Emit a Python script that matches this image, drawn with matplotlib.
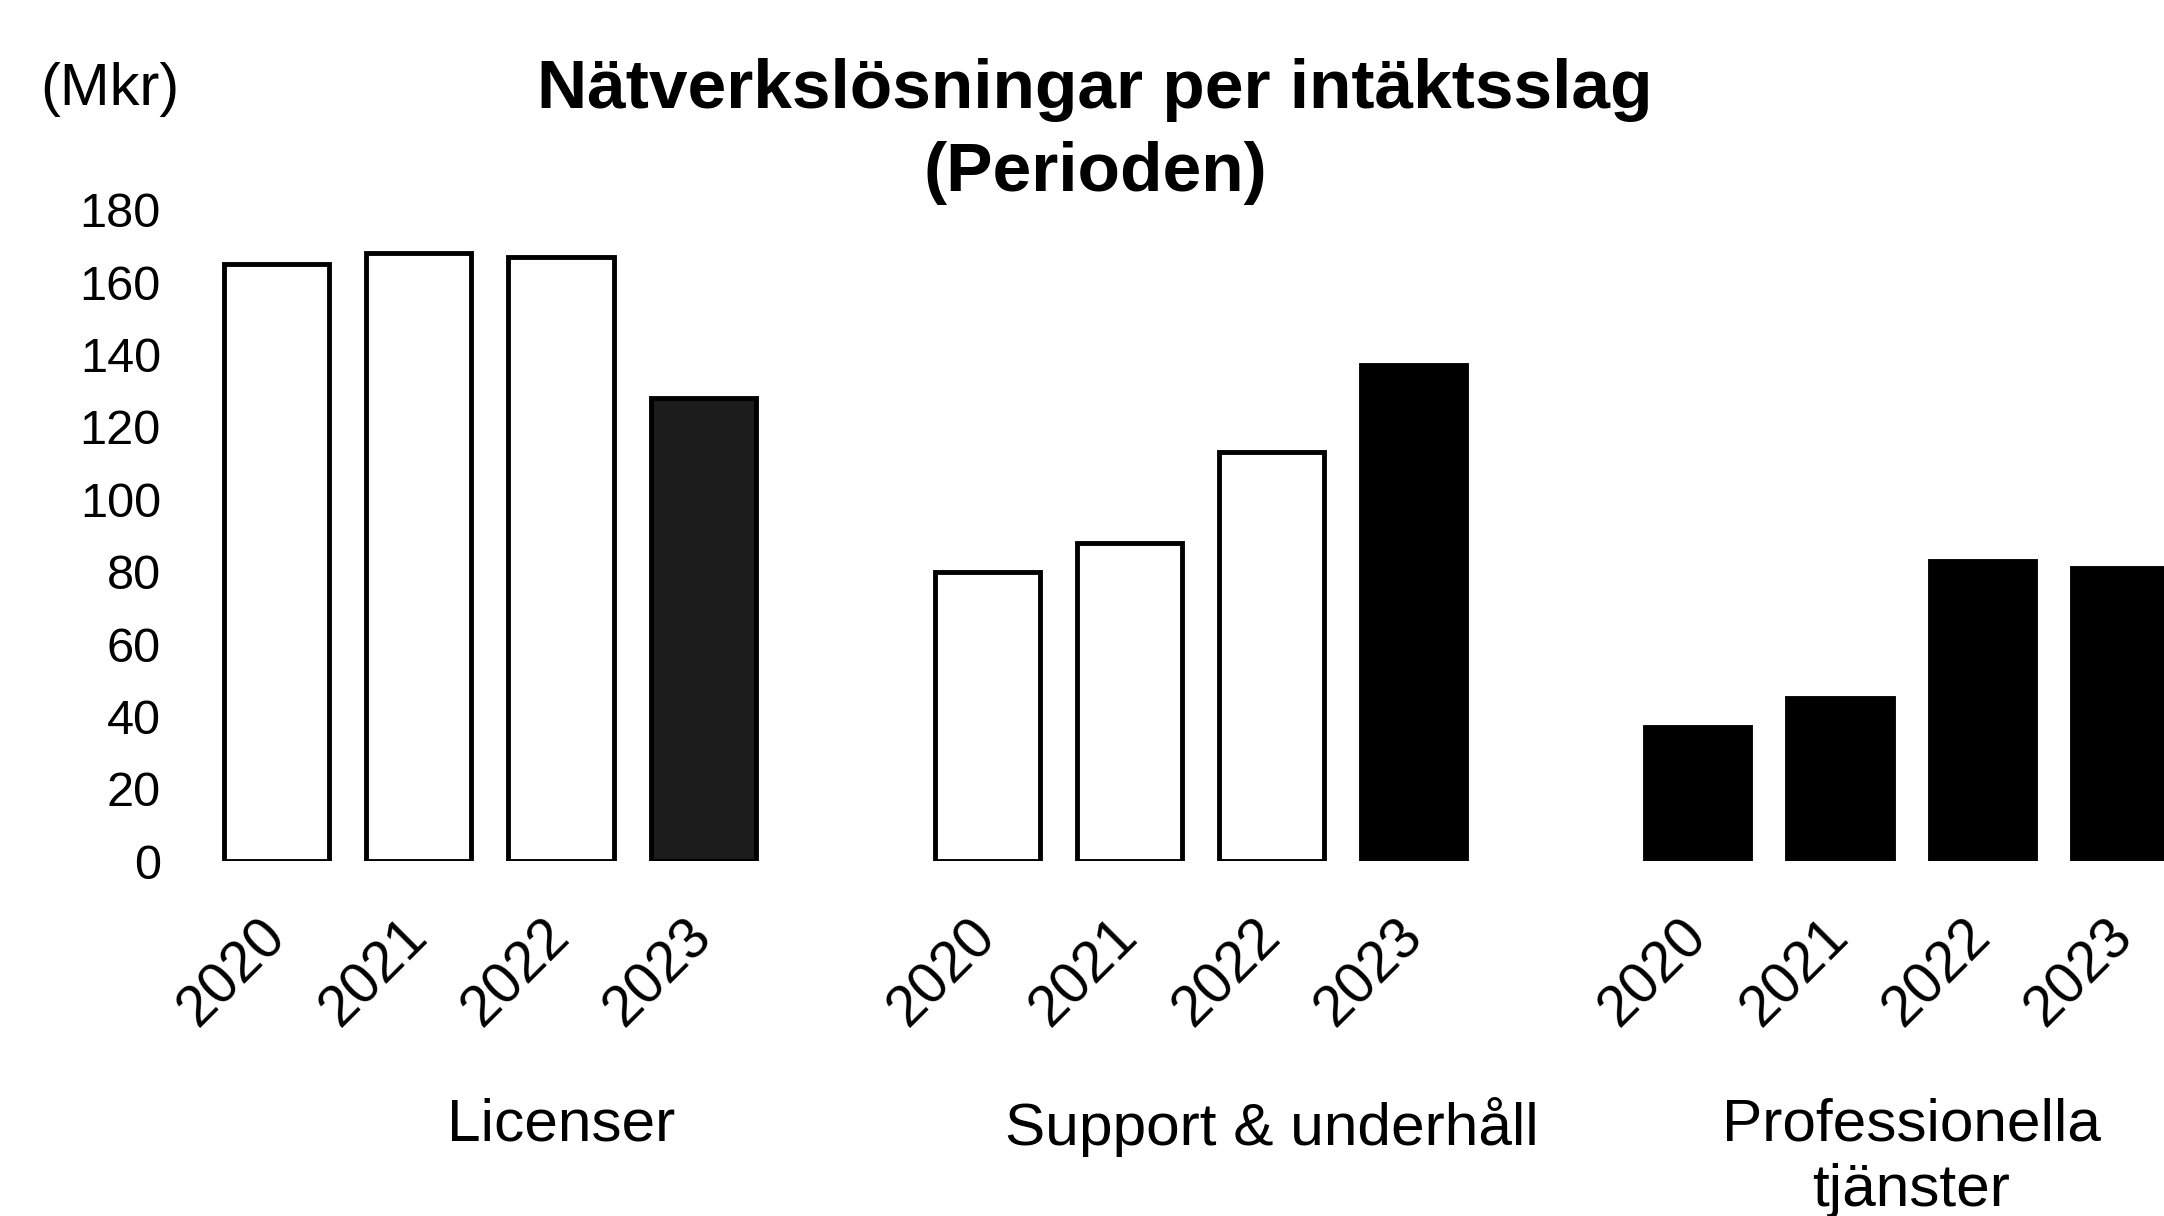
import matplotlib.pyplot as plt

plt.rcParams['font.family'] = ['Liberation Sans', 'DejaVu Sans']

years = ["2020", "2021", "2022", "2023"]
categories = ["Licenser", "Support & underhåll", "Professionella\ntjänster"]
licenser = [165, 168, 167, 128]
support = [80, 88, 113, 137]
professionella = [37, 45, 83, 81]

# fill per bar, same order as the values
fills = [
    ["white", "white", "white", "#1c1c1c"],
    ["white", "white", "white", "black"],
    ["black", "black", "black", "black"],
]

fig = plt.figure(figsize=(21.64, 12.16), dpi=100)
ax = fig.add_axes([0.0885, 0.2917, 0.9115, 0.5358])

series = [licenser, support, professionella]
positions = []
for g, vals in enumerate(series):
    xs = [g * 5 + i for i in range(len(vals))]
    positions += xs
    ax.bar(xs, vals, width=0.74, color=fills[g], edgecolor="black", linewidth=3.5)

ax.set_xlim(-0.6, 13.28)
ax.set_ylim(0, 180)
ax.set_yticks(range(0, 181, 20))
ax.tick_params(axis="y", length=0, pad=22, labelsize=35)
ax.set_xticks(positions, years * 3)
ax.tick_params(axis="x", length=0, pad=48, labelsize=41)
for lab in ax.get_xticklabels():
    lab.set_rotation(45)
    lab.set_ha("right")
    lab.set_va("center")
    lab.set_rotation_mode("anchor")
for s in ax.spines.values():
    s.set_visible(False)

# category names under each group
label_x = [2.0, 7.0, 11.5]
for x, name in zip(label_x, categories):
    ax.text(x, -0.362, name, transform=ax.get_xaxis_transform(),
            ha="center", va="top", fontsize=43.5, linespacing=1.25)

fig.text(0.506, 0.926, "Nätverkslösningar per intäktsslag", ha="center", va="center",
         fontsize=50, fontweight="bold")
fig.text(0.506, 0.858, "(Perioden)", ha="center", va="center",
         fontsize=50, fontweight="bold")
fig.text(0.051, 0.926, "(Mkr)", ha="center", va="center", fontsize=43)

fig.savefig("out.png", dpi=100, facecolor="white")
